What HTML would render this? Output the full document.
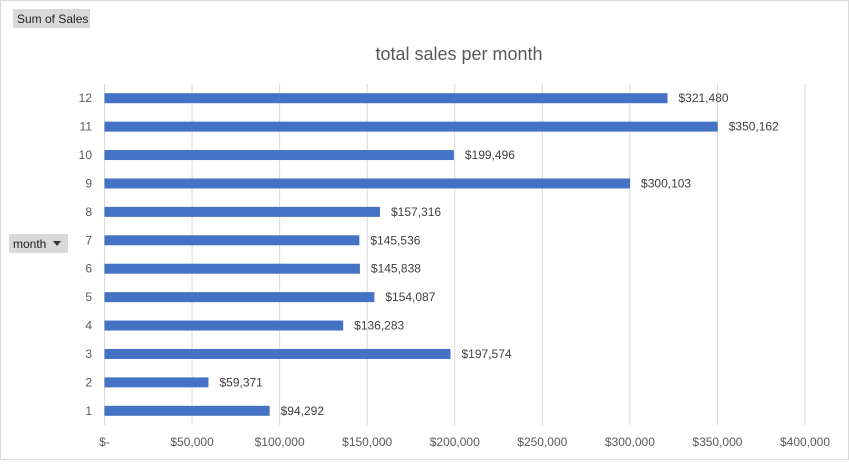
<!DOCTYPE html>
<html><head><meta charset="utf-8"><style>
body{margin:0;background:#fff;}
svg text{font-family:"Liberation Sans",sans-serif;}
</style></head><body>
<svg id="chart" width="849" height="460" xmlns="http://www.w3.org/2000/svg">
<rect x="0.5" y="0.5" width="848" height="459" fill="#fff" stroke="#d9d9d9"/>
<rect x="13" y="9" width="77" height="19" fill="#d9d9d9"/>
<text x="17" y="23" font-size="12" fill="#222">Sum of Sales</text>
<text x="459" y="60" font-size="18" fill="#595959" text-anchor="middle">total sales per month</text>
<rect x="9" y="234" width="59" height="19" fill="#d9d9d9"/>
<text x="13" y="248" font-size="12" fill="#222">month</text>
<path d="M53 241 L61 241 L57 246 Z" fill="#333"/>
<g id="grid"></g><g id="bars"></g><g id="labels"></g>
</svg>
<script>
const months=["1","2","3","4","5","6","7","8","9","10","11","12"];
const sales=[94292,59371,197574,136283,154087,145838,145536,157316,300103,199496,350162,321480];
const ticks=[0,50000,100000,150000,200000,250000,300000,350000,400000];
const tickLabels=["$-","$50,000","$100,000","$150,000","$200,000","$250,000","$300,000","$350,000","$400,000"];
const NS="http://www.w3.org/2000/svg";
const x0=104.5,x1=805,plotTop=84,plotBot=425,maxV=400000;
const xs=v=>x0+(x1-x0)*v/maxV;
const band=(plotBot-plotTop)/months.length;
const yc=i=>plotBot-band*(i+0.5);
function mk(tag,attrs,parent){const e=document.createElementNS(NS,tag);for(const k in attrs)e.setAttribute(k,attrs[k]);document.getElementById(parent).appendChild(e);return e;}
ticks.forEach((t,i)=>{
 const g=mk('line',{x1:xs(t),x2:xs(t),y1:plotTop,y2:plotBot,stroke:'#d9d9d9','stroke-width':1},'grid');
 
 
 const l=mk('text',{x:xs(t),y:446,'font-size':12,fill:'#595959','text-anchor':'middle'},'labels');
 l.textContent=tickLabels[i];
 
 
});
months.forEach((m,i)=>{
 const y=yc(i);
 const b=mk('rect',{x:x0,y:y-5,width:xs(sales[i])-x0,height:10,fill:'#4472c4'},'bars');
 
 
 const c=mk('text',{x:92,y:y+4,'font-size':12,fill:'#595959','text-anchor':'end'},'labels');
 c.textContent=m;
 
 
 const v=mk('text',{x:xs(sales[i])+11,y:y+4,'font-size':12,fill:'#404040'},'labels');
 v.textContent='$'+sales[i].toLocaleString('en-US');
 
 
});
</script>
</body></html>
